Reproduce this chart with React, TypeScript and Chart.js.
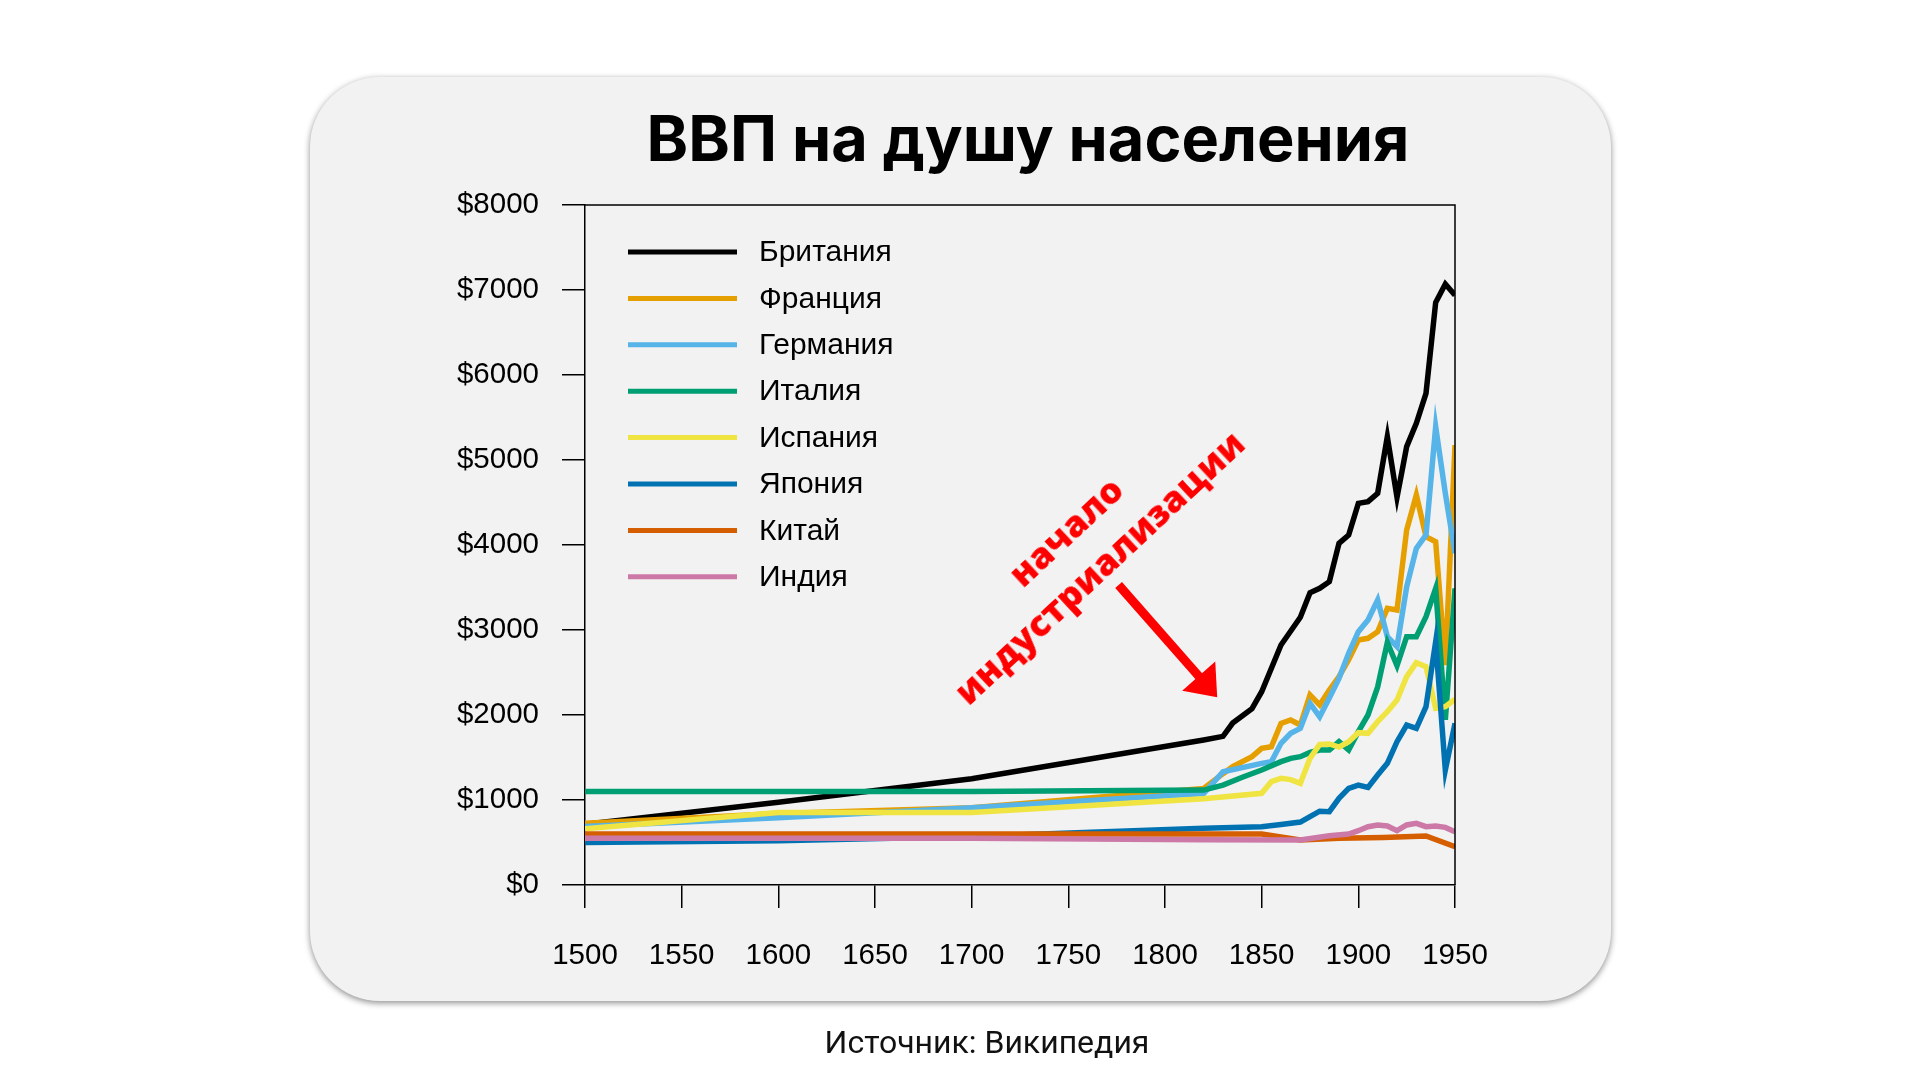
import React, { useEffect, useRef } from "react";
import { Chart, registerables } from "chart.js";

Chart.register(...registerables);

// ---------- texts ----------
const titleText = "ВВП на душу населения";
const sourceText = "Источник: Википедия";
const annotationLines = ["начало", "индустриализации"];

// ---------- series meta ----------
const seriesNames = ["Британия", "Франция", "Германия", "Италия", "Испания", "Япония", "Китай", "Индия"];
const seriesColors = ["#000000", "#E69F00", "#56B4E9", "#009E73", "#F0E442", "#0072B2", "#D55E00", "#CC79A7"];

// ---------- data (GDP per capita, $) ----------
const britainYears = [1500, 1600, 1700, 1820, 1830, 1835, 1845, 1850, 1860, 1870, 1875, 1880, 1885, 1890, 1895, 1900, 1905, 1910, 1915, 1920, 1925, 1930, 1935, 1940, 1945, 1950];
const britainGdp = [714, 974, 1250, 1706, 1749, 1905, 2075, 2274, 2824, 3150, 3439, 3490, 3569, 4020, 4118, 4490, 4510, 4608, 5274, 4560, 5157, 5431, 5784, 6853, 7070, 6939];

const franceYears = [1500, 1600, 1700, 1820, 1830, 1835, 1845, 1850, 1855, 1860, 1865, 1870, 1875, 1880, 1885, 1890, 1895, 1900, 1905, 1910, 1915, 1920, 1925, 1930, 1935, 1940, 1945, 1950];
const franceGdp = [727, 841, 910, 1135, 1310, 1392, 1510, 1608, 1627, 1902, 1941, 1882, 2235, 2118, 2294, 2451, 2650, 2882, 2902, 2980, 3255, 3235, 4176, 4588, 4098, 4039, 2588, 5176];

const germanyYears = [1500, 1600, 1700, 1820, 1830, 1850, 1855, 1860, 1865, 1870, 1875, 1880, 1885, 1890, 1895, 1900, 1905, 1910, 1915, 1920, 1925, 1930, 1935, 1940, 1945, 1950];
const germanyGdp = [688, 791, 910, 1077, 1333, 1431, 1451, 1667, 1784, 1843, 2137, 1980, 2200, 2431, 2725, 2980, 3118, 3353, 2921, 2804, 3509, 3961, 4118, 5392, 4608, 3902];

const italyYears = [1500, 1600, 1700, 1820, 1830, 1840, 1850, 1860, 1865, 1870, 1875, 1880, 1885, 1890, 1895, 1900, 1905, 1910, 1915, 1920, 1925, 1930, 1935, 1940, 1945, 1950];
const italyGdp = [1100, 1100, 1100, 1117, 1176, 1267, 1353, 1451, 1490, 1510, 1560, 1588, 1588, 1686, 1588, 1804, 2000, 2330, 2853, 2580, 2922, 2922, 3157, 3490, 1945, 3490];

const spainYears = [1500, 1600, 1700, 1820, 1850, 1855, 1860, 1865, 1870, 1875, 1880, 1885, 1890, 1895, 1900, 1905, 1910, 1915, 1920, 1925, 1930, 1935, 1940, 1945, 1950];
const spainGdp = [661, 853, 853, 1015, 1079, 1216, 1255, 1240, 1196, 1490, 1655, 1660, 1622, 1686, 1792, 1784, 1922, 2039, 2176, 2451, 2616, 2569, 2078, 2098, 2185];

const japanYears = [1500, 1600, 1700, 1820, 1850, 1860, 1870, 1875, 1880, 1885, 1890, 1895, 1900, 1905, 1910, 1915, 1920, 1925, 1930, 1935, 1940, 1945, 1950];
const japanGdp = [500, 520, 570, 669, 686, 712, 740, 804, 868, 862, 1020, 1137, 1176, 1148, 1294, 1431, 1686, 1882, 1843, 2098, 2863, 1353, 1902];

const chinaYears = [1500, 1600, 1700, 1820, 1850, 1870, 1890, 1913, 1935, 1950];
const chinaGdp = [600, 600, 600, 600, 600, 530, 549, 560, 576, 451];

const indiaYears = [1500, 1600, 1700, 1820, 1870, 1885, 1895, 1900, 1905, 1910, 1915, 1920, 1925, 1930, 1935, 1940, 1945, 1950];
const indiaGdp = [550, 550, 550, 533, 529, 580, 600, 639, 686, 706, 694, 639, 706, 725, 686, 694, 678, 627];

const seriesYears = [britainYears, franceYears, germanyYears, italyYears, spainYears, japanYears, chinaYears, indiaYears];
const seriesValues = [britainGdp, franceGdp, germanyGdp, italyGdp, spainGdp, japanGdp, chinaGdp, indiaGdp];

// ---------- axes ----------
const xMin = 1500;
const xMax = 1950;
const xStep = 50;
const yMin = 0;
const yMax = 8000;
const yStep = 1000;

// ---------- annotation arrow (data coordinates) ----------
const arrowFrom = { x: 1776, y: 3530 };
const arrowTo = { x: 1827, y: 2210 };

const AXIS_FONT = '"Liberation Sans", Arial, sans-serif';

const framePlugin = {
  id: "frame",
  afterDraw(chart: any) {
    const { ctx, chartArea } = chart;
    ctx.save();
    ctx.strokeStyle = "#000";
    ctx.lineWidth = 1.5;
    ctx.beginPath();
    ctx.moveTo(chartArea.left, chartArea.top);
    ctx.lineTo(chartArea.right, chartArea.top);
    ctx.lineTo(chartArea.right, chartArea.bottom);
    ctx.stroke();
    ctx.restore();
  },
};

const legendPlugin = {
  id: "insideLegend",
  afterDatasetsDraw(chart: any) {
    const { ctx, chartArea } = chart;
    const x0 = chartArea.left + 43;
    const x1 = chartArea.left + 152;
    const tx = chartArea.left + 174;
    const y0 = chartArea.top + 47;
    const gap = 46.4;
    ctx.save();
    ctx.font = `30px ${AXIS_FONT}`;
    ctx.textBaseline = "middle";
    ctx.textAlign = "left";
    chart.data.datasets.forEach((ds: any, i: number) => {
      const y = y0 + i * gap;
      ctx.strokeStyle = ds.borderColor;
      ctx.lineWidth = 5;
      ctx.lineCap = "butt";
      ctx.beginPath();
      ctx.moveTo(x0, y);
      ctx.lineTo(x1, y);
      ctx.stroke();
      ctx.fillStyle = "#000";
      ctx.fillText(ds.label, tx, y + 1);
    });
    ctx.restore();
  },
};

const arrowPlugin = {
  id: "arrow",
  afterDatasetsDraw(chart: any) {
    const { ctx, scales } = chart;
    const px0 = scales.x.getPixelForValue(arrowFrom.x);
    const py0 = scales.y.getPixelForValue(arrowFrom.y);
    const px1 = scales.x.getPixelForValue(arrowTo.x);
    const py1 = scales.y.getPixelForValue(arrowTo.y);
    const dx = px1 - px0;
    const dy = py1 - py0;
    const len = Math.hypot(dx, dy);
    const ux = dx / len;
    const uy = dy / len;
    const nx = -uy;
    const ny = ux;
    const headLen = 28;
    const headHalf = 22;
    const bx = px1 - ux * headLen;
    const by = py1 - uy * headLen;
    ctx.save();
    ctx.strokeStyle = "#FF0000";
    ctx.fillStyle = "#FF0000";
    ctx.lineWidth = 9;
    ctx.lineCap = "butt";
    ctx.beginPath();
    ctx.moveTo(px0, py0);
    ctx.lineTo(bx + ux * 2, by + uy * 2);
    ctx.stroke();
    ctx.beginPath();
    ctx.moveTo(px1, py1);
    ctx.lineTo(bx + nx * headHalf, by + ny * headHalf);
    ctx.lineTo(bx - nx * headHalf, by - ny * headHalf);
    ctx.closePath();
    ctx.fill();
    ctx.restore();
  },
};

function GdpChart() {
  const canvasRef = useRef<HTMLCanvasElement | null>(null);

  useEffect(() => {
    if (!canvasRef.current) return;
    const datasets = seriesNames.map((name, i) => ({
      label: name,
      data: seriesYears[i].map((yr, j) => ({ x: yr, y: seriesValues[i][j] })),
      borderColor: seriesColors[i],
      backgroundColor: seriesColors[i],
      borderWidth: 5.5,
      pointRadius: 0,
      pointHoverRadius: 0,
      tension: 0,
      fill: false,
      order: seriesNames.length - i,
    }));

    const chart = new Chart(canvasRef.current, {
      type: "line",
      data: { datasets },
      options: {
        animation: false,
        responsive: false,
        maintainAspectRatio: false,
        devicePixelRatio: 1,
        events: [],
        layout: { padding: { left: 425, right: 465, top: 205, bottom: 95 } },
        plugins: {
          legend: { display: false },
          tooltip: { enabled: false },
          title: { display: false },
        },
        scales: {
          x: {
            type: "linear",
            min: xMin,
            max: xMax,
            afterFit: (s: any) => {
              s.height = 100;
            },
            ticks: {
              stepSize: xStep,
              autoSkip: false,
              maxRotation: 0,
              color: "#000",
              padding: 30,
              font: { family: AXIS_FONT, size: 29.5 },
              callback: (v: any) => String(v),
            },
            grid: {
              drawOnChartArea: false,
              drawTicks: true,
              tickLength: 23,
              color: "#000",
              lineWidth: 1.5,
            },
            border: { display: true, color: "#000", width: 1.5 },
          },
          y: {
            type: "linear",
            min: yMin,
            max: yMax,
            afterFit: (s: any) => {
              s.width = 160;
            },
            ticks: {
              stepSize: yStep,
              color: "#000",
              padding: 23,
              font: { family: AXIS_FONT, size: 29.5 },
              callback: (v: any) => "$" + v,
            },
            grid: {
              drawOnChartArea: false,
              drawTicks: true,
              tickLength: 23,
              color: "#000",
              lineWidth: 1.5,
            },
            border: { display: true, color: "#000", width: 1.5 },
          },
        },
      },
      plugins: [framePlugin, legendPlugin, arrowPlugin],
    } as any);

    return () => {
      chart.destroy();
    };
  }, []);

  return (
    <canvas
      ref={canvasRef}
      width={1920}
      height={1080}
      style={{ position: "absolute", left: 0, top: 0, width: 1920, height: 1080 }}
    />
  );
}

export default function App() {
  return (
    <div
      style={{
        position: "absolute",
        left: 0,
        top: 0,
        width: 1920,
        height: 1080,
        background: "#ffffff",
        overflow: "hidden",
      }}
    >
      <div
        style={{
          position: "absolute",
          left: 310,
          top: 77,
          width: 1301,
          height: 924,
          borderRadius: 70,
          background: "#f2f2f2",
          boxShadow: "0 2px 6px rgba(0,0,0,0.45)",
        }}
      />
      <div
        style={{
          position: "absolute",
          left: 528,
          top: 107,
          width: 1000,
          textAlign: "center",
          font: '700 63px Inter, "Noto Sans", sans-serif',
          lineHeight: "63px",
          color: "#000",
          whiteSpace: "nowrap",
        }}
      >
        {titleText}
      </div>
      <GdpChart />
      <div
        style={{
          position: "absolute",
          left: 1082,
          top: 549,
          transform: "translate(-50%, -50%) rotate(-43deg)",
          color: "#FF0000",
          font: '800 36px "Open Sans", sans-serif',
          lineHeight: "49px",
          textAlign: "center",
          whiteSpace: "nowrap",
        }}
      >
        <div>{annotationLines[0]}</div>
        <div>{annotationLines[1]}</div>
      </div>
      <div
        style={{
          position: "absolute",
          left: 487,
          top: 1026,
          width: 1000,
          textAlign: "center",
          font: '400 32px Roboto, sans-serif',
          lineHeight: "32px",
          color: "#111",
          whiteSpace: "nowrap",
        }}
      >
        {sourceText}
      </div>
    </div>
  );
}
